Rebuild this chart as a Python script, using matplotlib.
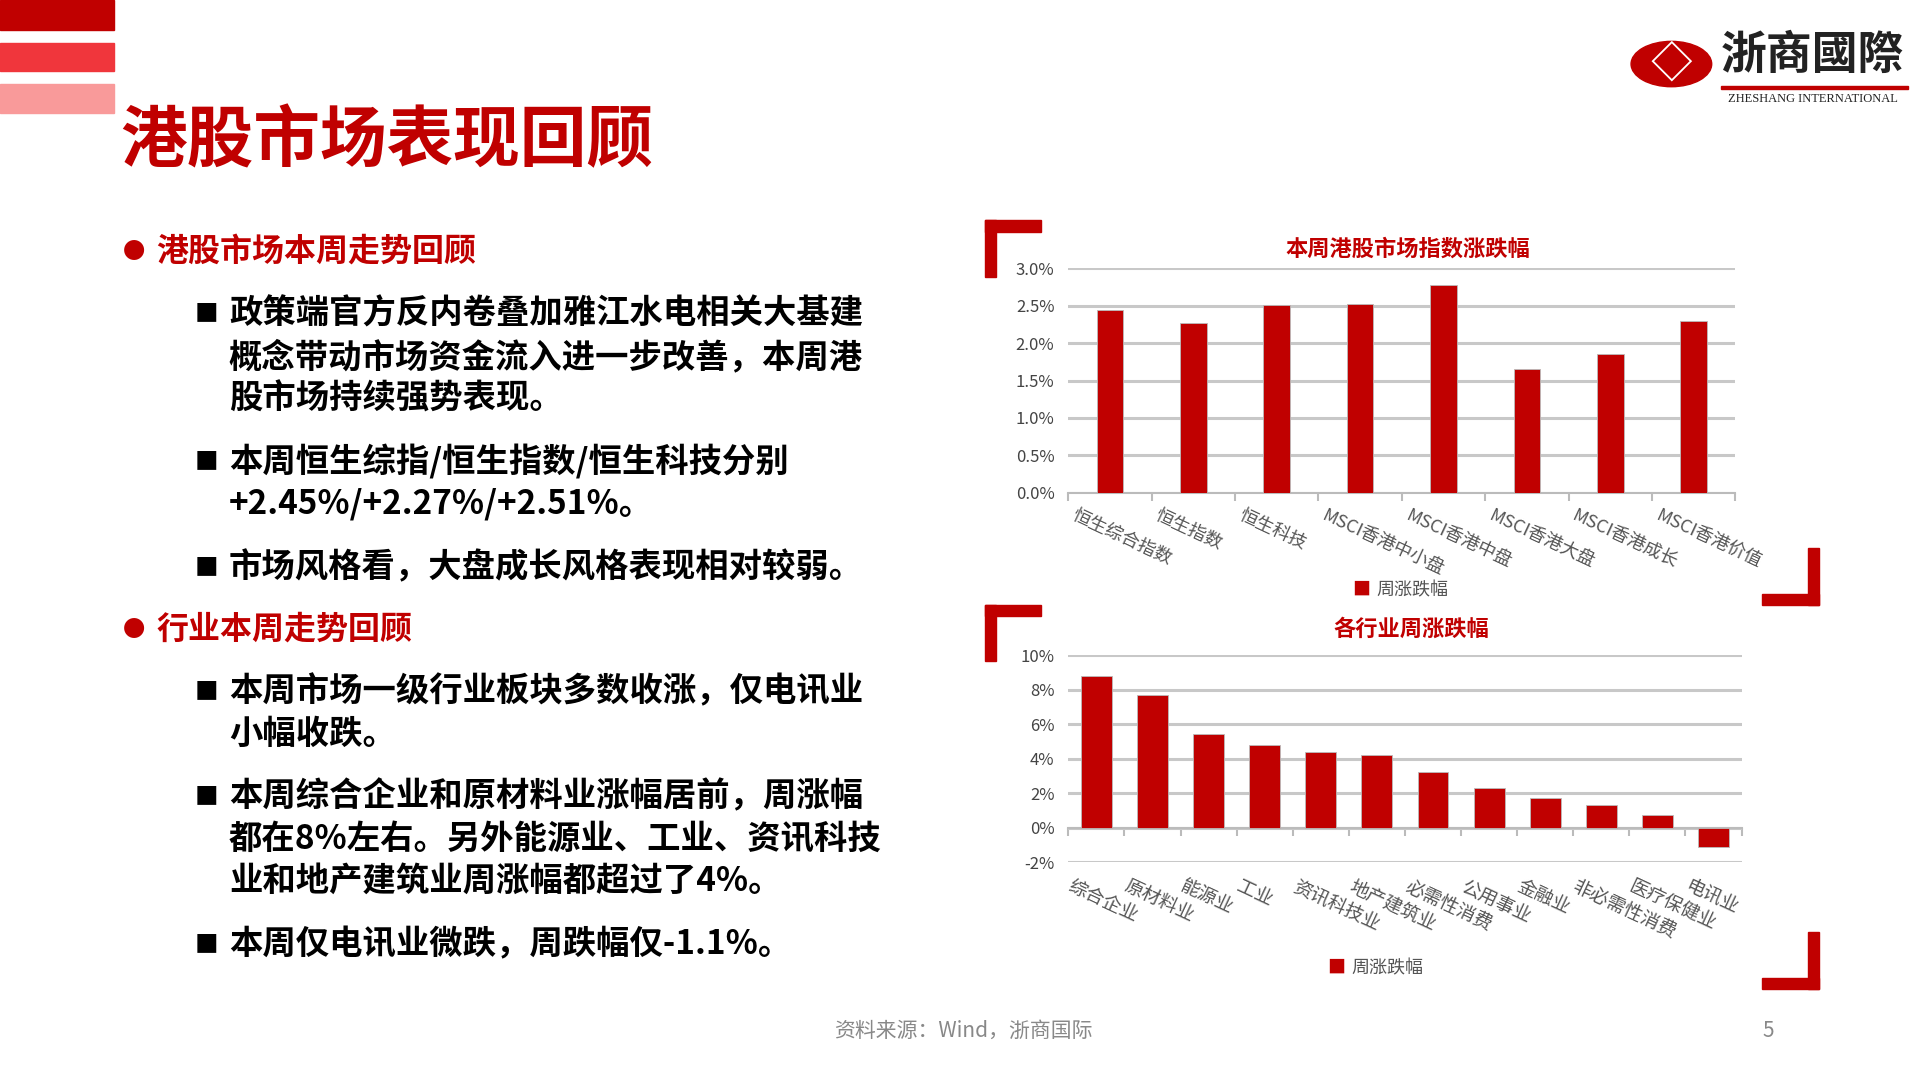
import matplotlib.pyplot as plt
from matplotlib.patches import Rectangle, Circle
from matplotlib.ticker import FuncFormatter

plt.rcParams['font.family'] = ['Noto Sans CJK SC', 'DejaVu Sans']

RED = '#C00000'

# data
idx_names = ['恒生综合指数', '恒生指数', '恒生科技', 'MSCI香港中小盘', 'MSCI香港中盘',
             'MSCI香港大盘', 'MSCI香港成长', 'MSCI香港价值']
idx_chg = [2.45, 2.27, 2.51, 2.52, 2.78, 1.65, 1.85, 2.30]
ind_names = ['综合企业', '原材料业', '能源业', '工业', '资讯科技业', '地产建筑业', '必需性消费',
             '公用事业', '金融业', '非必需性消费', '医疗保健业', '电讯业']
ind_chg = [8.8, 7.7, 5.4, 4.8, 4.4, 4.2, 3.2, 2.3, 1.7, 1.3, 0.7, -1.1]

W, H = 1560, 877
fig = plt.figure(figsize=(19.2, 10.8), dpi=100)


def fx(x):
    return x / W


def fy(y):
    return 1 - y / H


def rect(x0, y0, x1, y1, color):
    fig.patches.append(Rectangle((fx(x0), fy(y1)), fx(x1) - fx(x0), fy(y0) - fy(y1),
                                 transform=fig.transFigure, color=color, zorder=0))


# top-left stripes
rect(0, 0, 93, 24, RED)
rect(0, 35, 93, 58, '#F0363C')
rect(0, 68, 93, 92, '#F99A9A')

fig.text(fx(98), fy(115), '港股市场表现回顾', fontsize=48, fontweight='bold', color=RED, va='center')

# logo
fig.patches.append(Circle((fx(1358), fy(52)), 0.021, transform=fig.transFigure, color=RED))
fig.text(fx(1358), fy(52), '◇', fontsize=30, color='white', ha='center', va='center', fontweight='bold')
fig.text(fx(1473), fy(45), '浙商國際', fontsize=33, fontweight='bold', color='#222222', ha='center', va='center')
fig.text(fx(1473), fy(80), 'ZHESHANG INTERNATIONAL', fontsize=9, color='#222222', ha='center', va='center',
         family='Liberation Serif')
rect(1398, 70, 1550, 72, RED)

# left text
sections = [
    (204, '●', '港股市场本周走势回顾', True),
    (255, '■', '政策端官方反内卷叠加雅江水电相关大基建', False),
    (290, '', '概念带动市场资金流入进一步改善，本周港', False),
    (324, '', '股市场持续强势表现。', False),
    (375, '■', '本周恒生综指/恒生指数/恒生科技分别', False),
    (409, '', '+2.45%/+2.27%/+2.51%。', False),
    (461, '■', '市场风格看，大盘成长风格表现相对较弱。', False),
    (511, '●', '行业本周走势回顾', True),
    (562, '■', '本周市场一级行业板块多数收涨，仅电讯业', False),
    (596, '', '小幅收跌。', False),
    (647, '■', '本周综合企业和原材料业涨幅居前，周涨幅', False),
    (682, '', '都在8%左右。另外能源业、工业、资讯科技', False),
    (716, '', '业和地产建筑业周涨幅都超过了4%。', False),
    (767, '■', '本周仅电讯业微跌，周跌幅仅-1.1%。', False),
]
for y, mark, txt, head in sections:
    if head:
        fig.text(fx(100), fy(y), mark, fontsize=16, color=RED, va='center')
        fig.text(fx(127), fy(y), txt, fontsize=23, color=RED, fontweight='bold', va='center')
    else:
        if mark:
            fig.text(fx(158), fy(y), mark, fontsize=17, color='black', va='center')
        fig.text(fx(186), fy(y), txt, fontsize=24, color='black', fontweight='bold', va='center')


def bracket(x, y, flip):
    # L-shaped corner bracket
    if not flip:
        rect(x, y, x + 46, y + 9, RED)
        rect(x, y, x + 9, y + 46, RED)
    else:
        rect(x - 46, y - 9, x, y, RED)
        rect(x - 9, y - 46, x, y, RED)


bracket(800, 179, False)
bracket(1478, 491, True)
bracket(800, 491, False)
bracket(1478, 803, True)


def bar_chart(x0, y0, x1, y1, names, vals, title, ylim, step, fmt, title_y, leg_y, leg_x, rot_fs):
    ax = fig.add_axes([fx(x0), fy(y1), fx(x1) - fx(x0), fy(y0) - fy(y1)])
    ax.bar(range(len(vals)), vals, width=0.32 if len(vals) == 8 else 0.55, color=RED,
           edgecolor='#BBBBBB', linewidth=0.6, zorder=3, label='周涨跌幅')
    ax.set_ylim(*ylim)
    ax.set_xlim(-0.5, len(vals) - 0.5)
    ticks = []
    t = ylim[0]
    while t <= ylim[1] + 1e-9:
        ticks.append(round(t, 4))
        t += step
    ax.set_yticks(ticks)
    ax.yaxis.set_major_formatter(FuncFormatter(fmt))
    ax.grid(axis='y', color='#C8C8C8', linewidth=2.2, zorder=0)
    for s in ['top', 'right', 'left']:
        ax.spines[s].set_visible(False)
    ax.spines['bottom'].set_position(('data', 0))
    ax.spines['bottom'].set_color('#BBBBBB')
    ax.spines['bottom'].set_linewidth(1.5)
    ax.tick_params(axis='y', length=0, labelsize=12, labelcolor='#444444', pad=10)
    ax.set_xticks([i - 0.5 for i in range(len(vals) + 1)], minor=True)
    ax.tick_params(axis='x', which='minor', length=6, color='#BBBBBB', width=1.5)
    ax.set_xticks(range(len(vals)))
    ax.set_xticklabels([])
    ax.tick_params(axis='x', which='major', length=0)
    for i, n in enumerate(names):
        ax.annotate(n, (i - 0.4, ylim[0]), xycoords='data', xytext=(0, -10), textcoords='offset points',
                    rotation=-25, rotation_mode='anchor', ha='left', va='top',
                    fontsize=rot_fs, color='#555555')
    fig.text(fx((x0 + x1) / 2 + 5), fy(title_y), title, fontsize=16, fontweight='bold', color=RED,
             ha='center', va='center')
    fig.text(fx(leg_x), fy(leg_y), '■', fontsize=13, color=RED, ha='center', va='center')
    fig.text(fx(leg_x + 12), fy(leg_y), '周涨跌幅', fontsize=13, color='#555555', va='center')
    return ax


bar_chart(868, 218, 1410, 400, idx_names, idx_chg, '本周港股市场指数涨跌幅', (0, 3.0), 0.5,
          lambda v, p: f'{v:.1f}%', 202, 479, 1106, 13)
bar_chart(868, 532, 1415, 700, ind_names, ind_chg, '各行业周涨跌幅', (-2, 10), 2,
          lambda v, p: f'{v:.0f}%', 511, 786, 1086, 13.5)

# footer
fig.text(fx(783), fy(837), '资料来源：Wind，浙商国际', fontsize=15, color='#888888', ha='center', va='center')
fig.text(fx(1437), fy(837), '5', fontsize=15, color='#888888', ha='center', va='center')

fig.savefig('out.png', dpi=100, facecolor='white')
